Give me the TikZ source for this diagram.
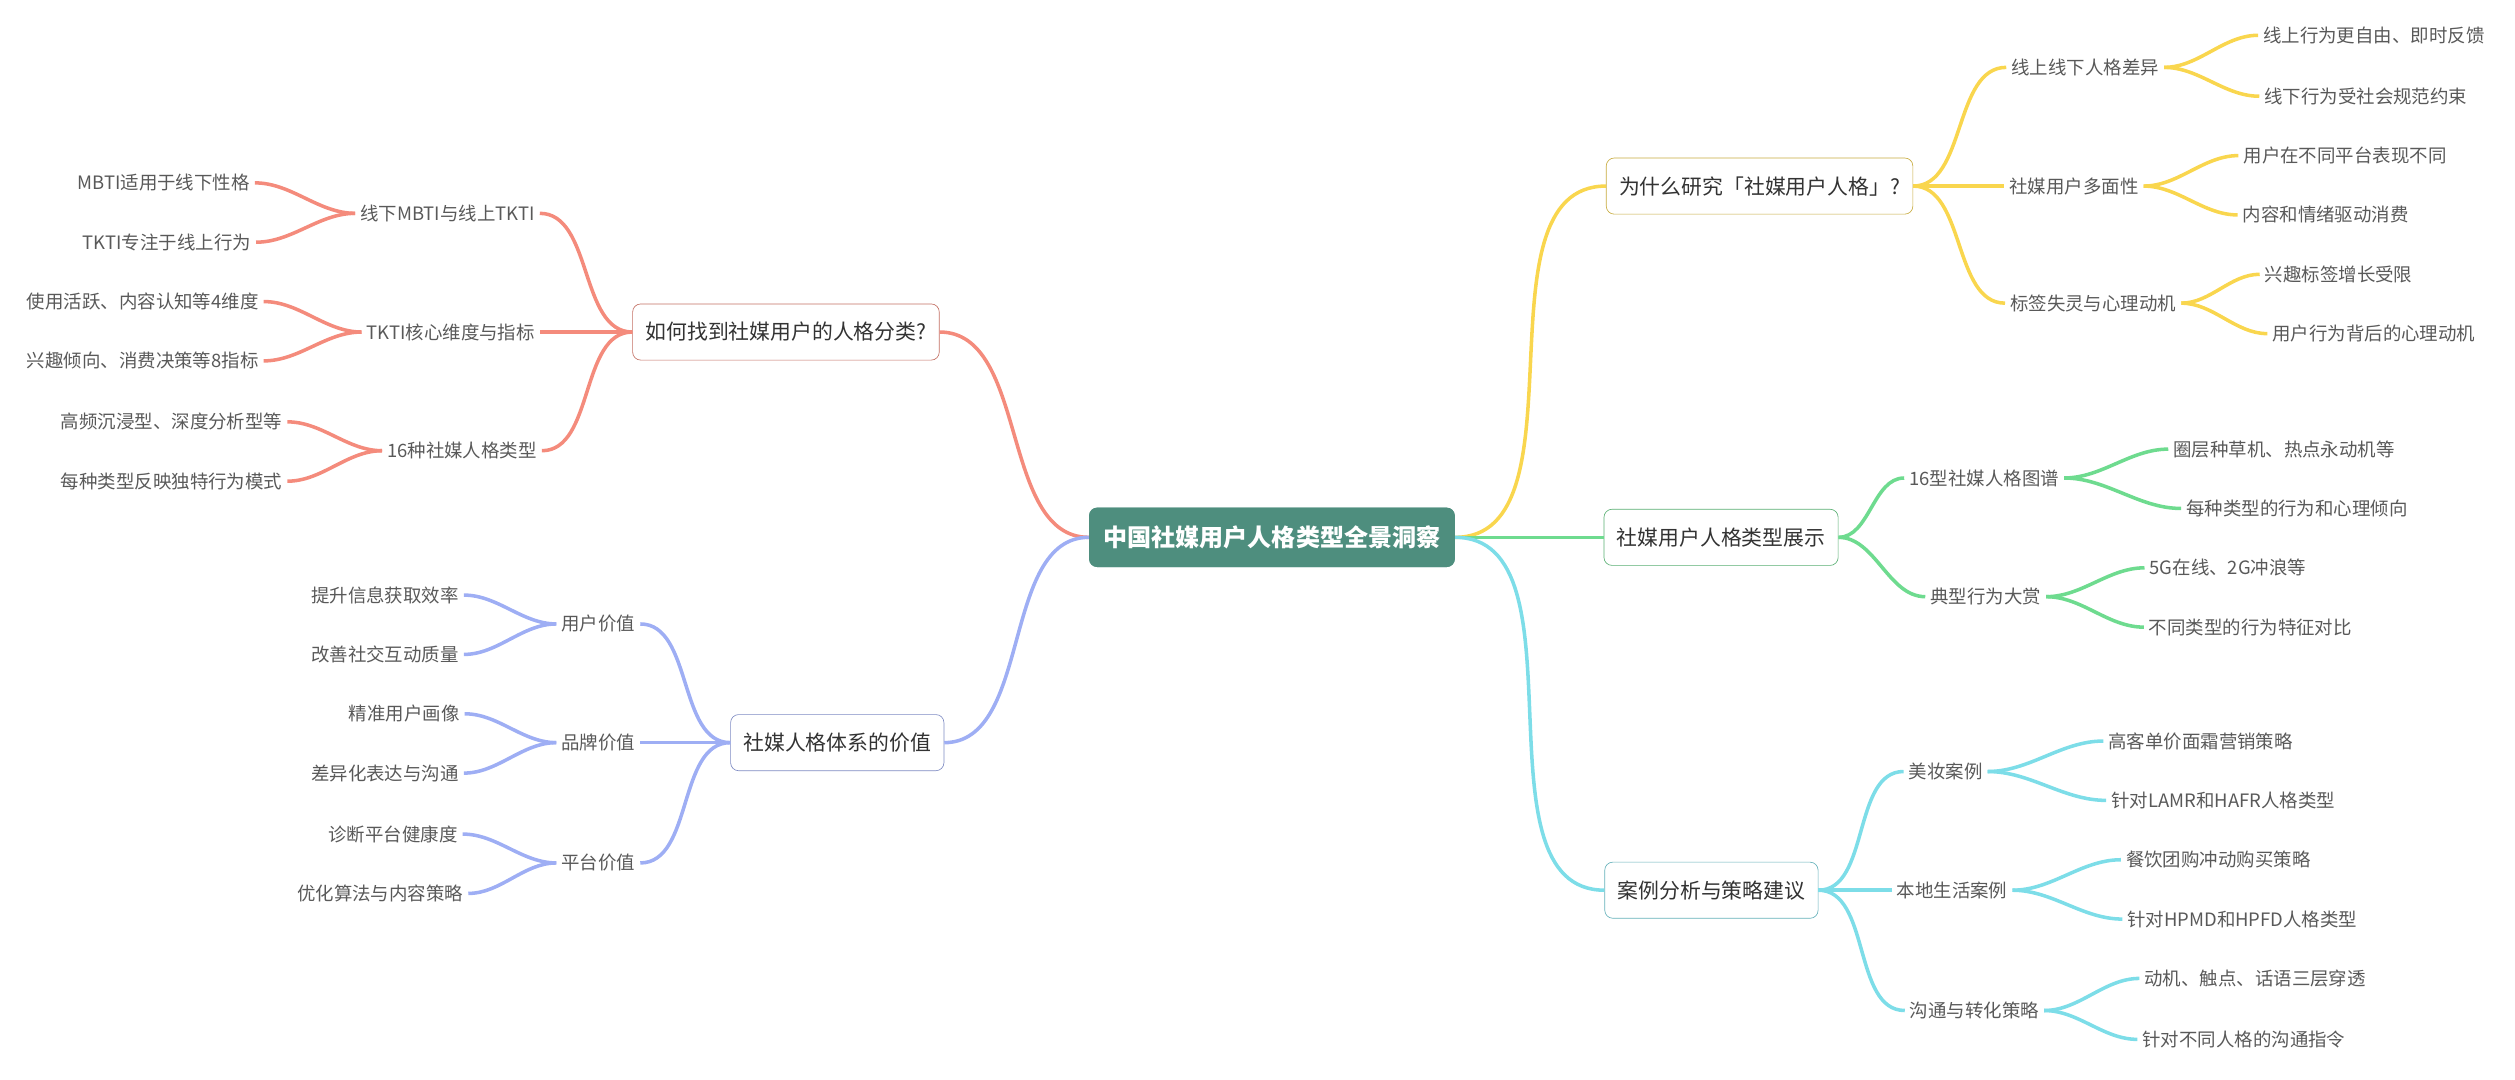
\documentclass[tikz,border=0pt]{standalone}
\usepackage{fontspec}
\setmainfont{Noto Sans CJK SC}
\begin{document}
\begin{tikzpicture}[x=1pt,y=-1pt,
 lf/.style={font=\fontsize{11.5}{13}\selectfont,text=black!65,inner sep=3pt},
 bx/.style={draw=#1!80!black,rounded corners=5pt,font=\fontsize{13}{15}\selectfont,text=black!80,minimum height=35pt,inner xsep=8pt,fill=white},
 ln/.style={draw=#1,line width=2.2pt},
 rc/.style={out=0,in=180,looseness=0.9},
 lc/.style={out=180,in=0,looseness=0.9}]
\definecolor{cy}{HTML}{F9D64E}\definecolor{cg}{HTML}{6EDB8F}\definecolor{cc}{HTML}{7DDDE8}
\definecolor{cr}{HTML}{F48B7C}\definecolor{cb}{HTML}{9EAEF4}\definecolor{ct}{HTML}{4E8E7E}
\useasboundingbox (0,0) rectangle (1568,673);
\node[fill=ct,rounded corners=5pt,text=white,font=\fontsize{15}{17}\selectfont\bfseries,minimum height=37pt,minimum width=228pt] (c) at (793,335) {中国社媒用户人格类型全景洞察};
% yellow
\node[bx=cy] (y) at (1097,116) {为什么研究「社媒用户人格」?};
\node[lf] (y1) at (1300,42) {线上线下人格差异};
\node[lf] (y2) at (1293,116) {社媒用户多面性};
\node[lf] (y3) at (1305,189) {标签失灵与心理动机};
\node[lf] (y11) at (1480,22) {线上行为更自由、即时反馈};
\node[lf] (y12) at (1475,60) {线下行为受社会规范约束};
\node[lf] (y21) at (1462,97) {用户在不同平台表现不同};
\node[lf] (y22) at (1450,134) {内容和情绪驱动消费};
\node[lf] (y31) at (1458,171) {兴趣标签增长受限};
\node[lf] (y32) at (1480,208) {用户行为背后的心理动机};
% green
\node[bx=cg] (g) at (1073,335) {社媒用户人格类型展示};
\node[lf] (g1) at (1237,298) {16型社媒人格图谱};
\node[lf] (g2) at (1238,372) {典型行为大赏};
\node[lf] (g11) at (1424,280) {圈层种草机、热点永动机等};
\node[lf] (g12) at (1432,317) {每种类型的行为和心理倾向};
\node[lf] (g21) at (1389,354) {5G在线、2G冲浪等};
\node[lf] (g22) at (1403,391) {不同类型的行为特征对比};
% cyan
\node[bx=cc] (k) at (1067,555) {案例分析与策略建议};
\node[lf] (k1) at (1213,481) {美妆案例};
\node[lf] (k2) at (1217,555) {本地生活案例};
\node[lf] (k3) at (1231,630) {沟通与转化策略};
\node[lf] (k11) at (1372,462) {高客单价面霜营销策略};
\node[lf] (k12) at (1386,499) {针对LAMR和HAFR人格类型};
\node[lf] (k21) at (1383,536) {餐饮团购冲动购买策略};
\node[lf] (k22) at (1398,573) {针对HPMD和HPFD人格类型};
\node[lf] (k31) at (1406,610) {动机、触点、话语三层穿透};
\node[lf] (k32) at (1399,648) {针对不同人格的沟通指令};
% red
\node[bx=cr] (r) at (490,207) {如何找到社媒用户的人格分类?};
\node[lf] (r1) at (279,133) {线下MBTI与线上TKTI};
\node[lf] (r2) at (281,207) {TKTI核心维度与指标};
\node[lf] (r3) at (288,281) {16种社媒人格类型};
\node[lf] (r11) at (102,114) {MBTI适用于线下性格};
\node[lf] (r12) at (104,151) {TKTI专注于线上行为};
\node[lf] (r21) at (89,188) {使用活跃、内容认知等4维度};
\node[lf] (r22) at (89,225) {兴趣倾向、消费决策等8指标};
\node[lf] (r31) at (107,263) {高频沉浸型、深度分析型等};
\node[lf] (r32) at (107,300) {每种类型反映独特行为模式};
% blue
\node[bx=cb] (b) at (522,463) {社媒人格体系的价值};
\node[lf] (b1) at (373,389) {用户价值};
\node[lf] (b2) at (373,463) {品牌价值};
\node[lf] (b3) at (373,538) {平台价值};
\node[lf] (b11) at (240,371) {提升信息获取效率};
\node[lf] (b12) at (240,408) {改善社交互动质量};
\node[lf] (b21) at (252,445) {精准用户画像};
\node[lf] (b22) at (240,482) {差异化表达与沟通};
\node[lf] (b31) at (245,520) {诊断平台健康度};
\node[lf] (b32) at (237,557) {优化算法与内容策略};
\begin{scope}[on background layer/.style={}]
\end{scope}
% connectors right
\foreach \p/\col/\kids in {y/cy/{y1,y2,y3},g/cg/{g1,g2},k/cc/{k1,k2,k3}}{
  \path[ln=\col] (c.east) to[rc] (\p.west);
  \foreach \q in \kids { \path[ln=\col] (\p.east) to[rc] (\q.west); }
}
\foreach \p/\col in {y1/cy,y2/cy,y3/cy,g1/cg,g2/cg,k1/cc,k2/cc,k3/cc}{
  \path[ln=\col] (\p.east) to[rc] (\p1.west);
  \path[ln=\col] (\p.east) to[rc] (\p2.west);
}
% connectors left
\foreach \p/\col/\kids in {r/cr/{r1,r2,r3},b/cb/{b1,b2,b3}}{
  \path[ln=\col] (c.west) to[lc] (\p.east);
  \foreach \q in \kids { \path[ln=\col] (\p.west) to[lc] (\q.east); }
}
\foreach \p/\col in {r1/cr,r2/cr,r3/cr,b1/cb,b2/cb,b3/cb}{
  \path[ln=\col] (\p.west) to[lc] (\p1.east);
  \path[ln=\col] (\p.west) to[lc] (\p2.east);
}
% redraw boxes on top
\node[fill=ct,rounded corners=5pt,text=white,font=\fontsize{15}{17}\selectfont\bfseries,minimum height=37pt,minimum width=228pt] at (793,335) {中国社媒用户人格类型全景洞察};
\end{tikzpicture}
\end{document}
